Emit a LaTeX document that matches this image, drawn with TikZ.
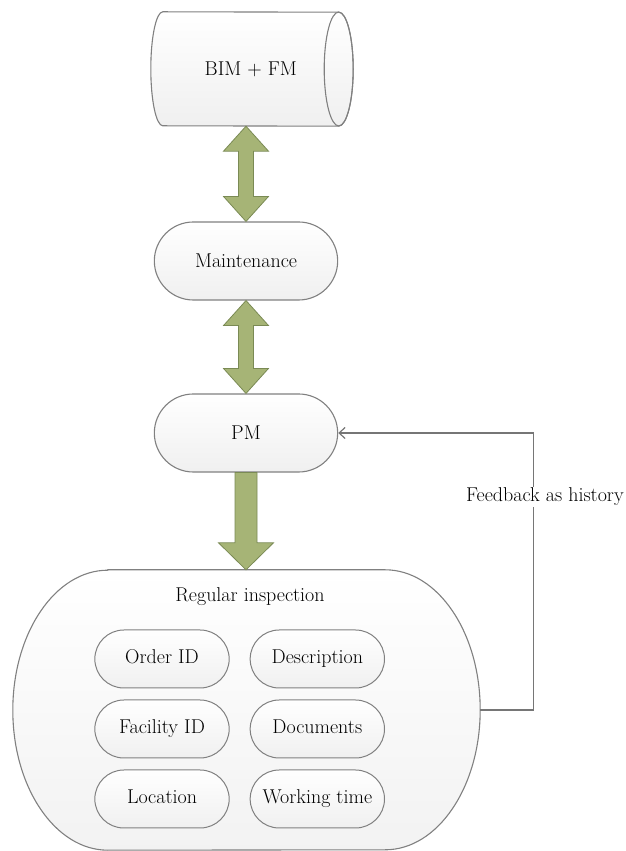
\documentclass[tikz,border=0pt]{standalone}
\usetikzlibrary{shapes.geometric, shapes.misc, arrows.meta, calc, positioning, backgrounds}
\definecolor{arrowgreen}{RGB}{166,180,118}
\definecolor{arrowedge}{RGB}{122,138,84}
\definecolor{boxedge}{RGB}{128,128,128}
\definecolor{linegray}{RGB}{118,118,118}

\begin{document}
\begin{tikzpicture}[x=1pt, y=1pt,
    node distance=11pt and 20pt,
    every node/.style={font=\fontsize{20}{24}\selectfont},
    boxshade/.style={draw=boxedge, line width=1.1pt, top color=white, bottom color=gray!12},
    pmbox/.style={rounded rectangle, boxshade, minimum width=190, minimum height=78},
    fieldbox/.style={rounded rectangle, boxshade, line width=1pt, minimum width=141, minimum height=58, text height=14pt, text depth=4pt},
    dbbox/.style={rectangle, inner sep=0pt, minimum width=175.5, minimum height=114},
    blockarrow/.style={fill=arrowgreen, draw=arrowedge, line width=0.8pt, line join=miter},
    fbline/.style={draw=linegray, line width=1.2pt, -{Straight Barb[length=6pt, width=11pt]}},
    fblabel/.style={fill=white, inner sep=1pt},
]
    \useasboundingbox (0,0) rectangle (626,851);

    \node[dbbox] (db) at (250.75,782) {BIM + FM};
    \begin{scope}[on background layer]
        \draw[boxshade] (db.north west) arc[start angle=90, end angle=270, x radius=12, y radius=57]
            -- (db.south east) arc[start angle=-90, end angle=90, x radius=14.5, y radius=57] -- cycle;
        \draw[draw=boxedge, line width=1.1pt] (db.east) ellipse[x radius=14.5, y radius=57];
    \end{scope}

    \node[pmbox] (mnt) at (246,590) {Maintenance};
    \node[pmbox] (pm) at (246,418) {PM};

    % regular inspection container
    \node[minimum width=467, minimum height=280, inner sep=0pt] (insp) at (246.5,141) {};
    \draw[boxshade, bottom color=gray!10]
        ([xshift=95pt]insp.north west) -- ([xshift=-95pt]insp.north east)
        arc[start angle=90, end angle=-90, x radius=95, y radius=140]
        -- ([xshift=95pt]insp.south west)
        arc[start angle=270, end angle=90, x radius=95, y radius=140] -- cycle;
    \node (title) at (250,254) {Regular inspection};

    \node[fieldbox] (f1) at (162,192) {Order ID};
    \node[fieldbox, right=of f1] (f2) {Description};
    \node[fieldbox, below=of f1] (f3) {Facility ID};
    \node[fieldbox, right=of f3] (f4) {Documents};
    \node[fieldbox, below=of f3] (f5) {Location};
    \node[fieldbox, right=of f5] (f6) {Working time};

    % block arrows
    \draw[blockarrow] let \p1=(mnt.north |- db.south), \p2=(mnt.north) in
        (\p1) -- (\x1+22.5,\y1-25) -- (\x1+7.5,\y1-25) -- (\x1+7.5,\y2+25) -- (\x1+22.5,\y2+25)
        -- (\p2) -- (\x1-22.5,\y2+25) -- (\x1-7.5,\y2+25) -- (\x1-7.5,\y1-25) -- (\x1-22.5,\y1-25) -- cycle;
    \draw[blockarrow] let \p1=(mnt.south), \p2=(pm.north) in
        (\p1) -- (\x1+22.5,\y1-25) -- (\x1+7.5,\y1-25) -- (\x1+7.5,\y2+25) -- (\x1+22.5,\y2+25)
        -- (\p2) -- (\x1-22.5,\y2+25) -- (\x1-7.5,\y2+25) -- (\x1-7.5,\y1-25) -- (\x1-22.5,\y1-25) -- cycle;
    \draw[blockarrow] let \p1=(pm.south), \p2=(pm.south |- insp.north) in
        (\x1-11,\y1) -- (\x1+11,\y1) -- (\x1+11,\y2+27) -- (\x1+27.5,\y2+27)
        -- (\p2) -- (\x1-27.5,\y2+27) -- (\x1-11,\y2+27) -- cycle;

    % feedback loop
    \draw[fbline] (insp.east) -- ++(53,0) |- (pm.east);
    \node[fblabel] (fb) at (545,354) {Feedback as history};
\end{tikzpicture}
\end{document}
